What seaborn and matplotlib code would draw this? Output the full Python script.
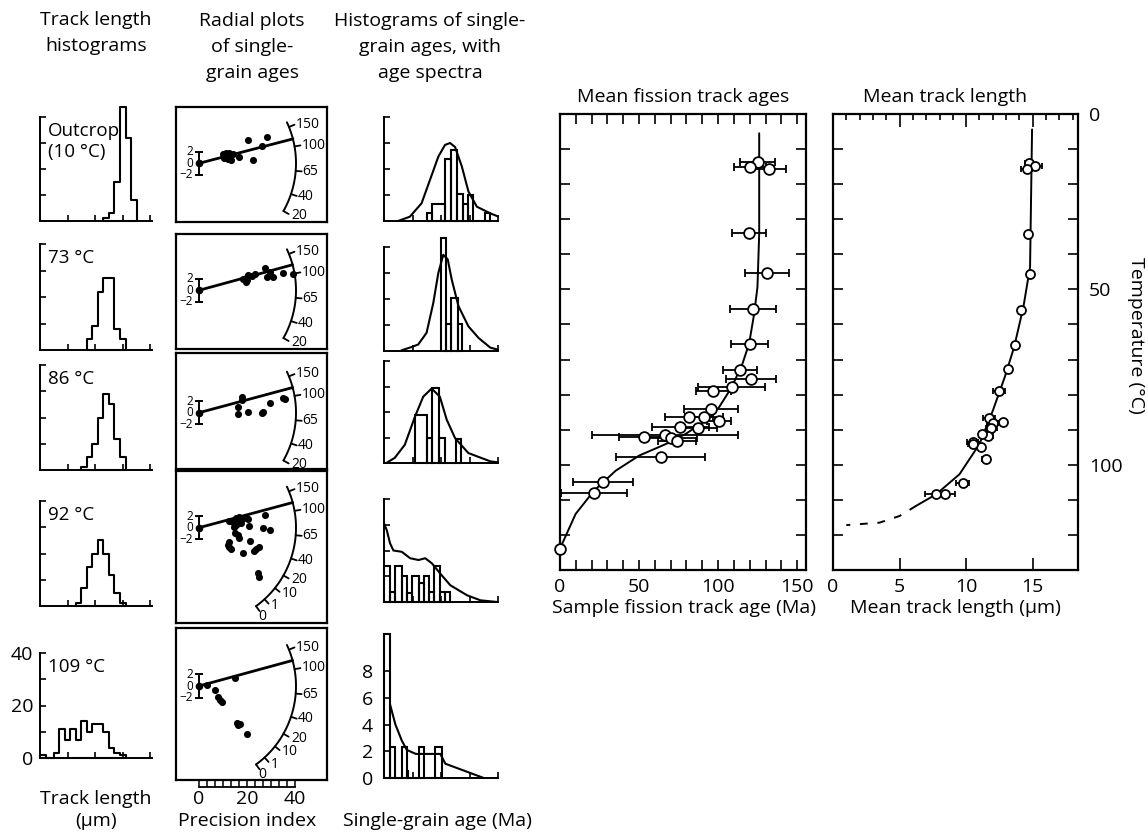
import numpy as np
import matplotlib
matplotlib.use("Agg")
import matplotlib.pyplot as plt
import seaborn as sns

# ===================== DATA =====================
# --- Mean fission track ages (Ma) versus temperature (°C)
age_temp = [13.8, 15.0, 15.8, 33.8, 45.3, 55.7, 65.6, 73.0, 75.5, 77.9, 78.9, 84.1, 86.3,
            86.3, 87.6, 89.1, 89.4, 91.4, 92.2, 92.5, 93.3, 97.7, 104.8, 108.0, 123.9]
age_ma = [125, 120, 132, 119.6, 130.8, 122, 120, 114, 121, 108.6, 97, 95.6, 81.6,
          91, 100.6, 76, 87.5, 66.5, 53.4, 70.5, 73.8, 63.7, 27.4, 21.5, 0]
age_err = [11, 10, 11, 10.5, 13.8, 14.5, 11.6, 10.8, 15.8, 21, 11, 17, 15,
           12, 7.6, 18, 12, 46, 16, 16, 12, 28, 19, 21, 0]
age_curve_ma = [126, 126, 124.9, 122.8, 119.6, 115.4, 108.6, 100.6, 92.2, 79.5, 66.9, 50, 35.2, 21.5, 9.9, 0]
age_curve_t = [5.5, 34.1, 49.3, 57, 65.5, 71.2, 77.9, 83.6, 87.4, 91.2, 94.1, 97.4, 101.7, 107.4, 114, 123.9]

# --- Mean track length (µm) versus temperature (°C)
len_temp = [13.9, 14.8, 15.6, 34.1, 45.5, 56, 65.8, 72.8, 79.1, 86.8, 87.7, 88, 89.6,
            91.9, 91.2, 93.6, 94.8, 94.1, 98.4, 105.2, 108.4, 108.4]
len_um = [14.75, 15.2, 14.55, 14.65, 14.8, 14.1, 13.7, 13.15, 12.45, 11.7, 12.75, 12.0, 11.9,
          11.65, 11.2, 10.5, 11.1, 10.55, 11.5, 9.75, 8.4, 7.7]
len_err = [0.3, 0.5, 0.4, 0, 0, 0, 0, 0, 0.45, 0.45, 0, 0.4, 0.4,
           0.4, 0, 0.4, 0, 0.4, 0.3, 0.5, 0.75, 0.8]
len_curve_um = [14.95, 14.8, 14.3, 13.6, 12.9, 12.0, 11.0, 9.5, 7.75, 6.25]
len_curve_t = [4.4, 43.6, 55, 66.5, 75, 84.6, 94.1, 102.7, 108.4, 111.7]
len_dash_um = [6.25, 5.0, 3.5, 1.0]
len_dash_t = [111.7, 114.6, 116.5, 117.2]

# --- Row labels
row_labels = ["Outcrop\n(10 °C)", "73 °C", "86 °C", "92 °C", "109 °C"]

# --- Track length histograms (µm bin edges, counts)
tl_edges = [
    [11.5, 12.5, 13.5, 14.5, 15.5, 16.5, 17.5],
    [8.5, 9.5, 10.5, 11.5, 12.5, 13.5, 14.5, 15.5],
    [7.5, 8.5, 9.5, 10.5, 11.5, 12.5, 13.5, 14.5, 15.5],
    [6.5, 7.5, 8.5, 9.5, 10.5, 11.5, 12.5, 13.5, 14.5, 15.5],
    [0, 1, 2.5, 3.5, 4.5, 5.5, 6.5, 7.5, 8.5, 9.5, 10.5, 11.5, 12.5, 13.5, 14.5, 15.5],
]
tl_counts = [
    [1, 3, 15, 44, 32, 8],
    [4, 9, 22, 27, 27, 8, 4],
    [1, 5, 10, 20, 29, 25, 12, 5],
    [1, 7, 15, 20, 25, 20, 12, 5, 1],
    [1, 0, 2, 11, 7, 11, 7, 14, 10, 13, 13, 10, 4, 2, 1],
]

# --- Radial plots: precision index and standardised estimate of single grains
rad_prec = [
    [10.1, 11.3, 12.4, 10.6, 11.9, 13.3, 12.6, 16.8, 20.3, 28.2, 26.3, 22.6, 14.0],
    [19.9, 20.6, 19.4, 20.1, 23.3, 27.5, 28.2, 31.0, 35.1, 39.0, 29.6, 18.2, 21.9],
    [18.1, 18.1, 16.4, 16.4, 20.6, 26.1, 26.8, 29.6, 34.9, 35.8],
    [12.6, 14.0, 15.4, 16.5, 18.9, 20.3, 21.0, 17.5, 15.4, 15.0, 16.8, 16.1, 12.6, 11.9, 13.3,
     12.6, 18.2, 21.3, 23.8, 24.9, 23.1, 26.5, 29.6, 27.5, 24.4, 24.9, 16.8, 19.6, 14.4],
    [3.5, 6.7, 8.0, 8.75, 9.5, 15.7, 16.4, 17.1, 20.1, 15.0],
]
rad_z = [
    [1.55, 1.84, 1.72, 0.98, 0.8, 0.57, 1.26, 1.15, 3.97, 4.54, 2.99, 0.52, 1.55],
    [2.36, 2.64, 1.49, 1.78, 2.82, 3.79, 2.36, 2.36, 2.93, 2.82, 3.22, 1.90, 2.47],
    [2.64, 2.18, 1.03, -0.29, 0.17, 0.0, 0.17, 1.72, 2.59, 2.36],
    [1.15, 1.03, 1.61, 1.78, 1.61, 1.44, 0.29, 0.75, 0.46, -0.98, -1.84, -1.26, -2.41, -2.99, -3.74,
     -3.39, -4.43, -2.3, -3.74, -3.28, -4.02, -0.11, -0.4, 2.18, -7.87, -8.56, 0.75, 1.78, 0.17],
    [0.17, -0.69, -1.95, -2.41, -2.7, -6.43, -6.72, -6.55, -8.28, 1.38],
]
rad_central_age = [119, 122, 121, 121, 122]
rad_arc_ages = [
    [150, 100, 65, 40, 20],
    [150, 100, 65, 40, 20],
    [150, 100, 65, 40, 20],
    [150, 100, 65, 40, 20, 10, 1, 0],
    [150, 100, 65, 40, 20, 10, 1, 0],
]
# age scale of the radial arc (angle of each age, degrees)
arc_scale_ages = [0, 1, 10, 20, 40, 65, 100, 150]
arc_scale_angles = [-54, -47.5, -38.5, -29.5, -18.5, -4.5, 10, 22]
precision_ticks = list(np.linspace(0, 40, 13))

# --- Single-grain age histograms (Ma bin edges, frequency) and age spectra
ah_edges = [
    [75, 85, 107, 118, 128, 138, 148, 157, 178, 186],
    [99.4, 108.2, 117.6, 129.4, 136.5],
    [54, 74.7, 83.5, 97, 107, 126, 135.3],
    [0, 10.6, 19.4, 31.2, 40, 48.8, 60.6, 69.4, 78.2, 87, 98.8, 107.6, 115],
    [0, 10.6, 19.4, 31.2, 40, 42.9, 60.6, 69.4, 90, 101.7],
]
ah_heights = [
    [0.6, 1.3, 4.8, 5.5, 2.1, 1.3, 2.0, 0, 0.6],
    [8.7, 2.1, 4.1, 2.1],
    [3.8, 1.95, 5.9, 1.95, 0, 1.9],
    [2.8, 0.8, 2.8, 2.0, 0.7, 2.0, 1.5, 2.0, 0.8, 2.8, 0.8, 0.8],
    [10.8, 2.3, 0, 2.3, 0.5, 0, 2.3, 0, 2.3],
]
spec_age = [
    [24.7, 45.3, 65.9, 80.6, 95.3, 107, 115.9, 124.7, 136.5, 148.2, 162.9, 186.5, 200],
    [30.6, 48, 60, 74.7, 86.5, 95.3, 104, 111.8, 118.8, 130.6, 148, 166, 186.5, 200],
    [4, 18.8, 36.5, 54, 68.8, 83.5, 98, 110, 124.7, 148, 186.5, 200],
    [0, 4.7, 10.6, 16.5, 31.2, 45.9, 60.6, 72.3, 84.1, 98.8, 116.4, 145.8, 169.3, 198.8],
    [10.6, 20, 31.2, 40, 55.9, 98.8, 107.6, 175],
]
spec_val = [
    [0, 0.33, 1.36, 3.15, 4.95, 5.85, 6.0, 5.69, 4.2, 2.26, 1.1, 0.59, 0.35],
    [0.05, 0.3, 0.5, 1.4, 3.7, 6.0, 7.4, 7.05, 5.5, 3.46, 1.9, 1.0, 0.26, 0.1],
    [0, 0.4, 1.43, 3.6, 5.2, 5.84, 5.2, 3.4, 1.95, 0.78, 0.13, 0.05],
    [6.1, 5.6, 4.56, 4.0, 3.9, 3.4, 3.26, 3.4, 3.0, 2.2, 1.3, 0.52, 0.13, 0],
    [5.5, 4.0, 2.8, 2.1, 1.8, 1.8, 1.07, 0],
]

# ===================== LAYOUT / STYLE =====================
W, H = 1148, 833
FS = 14
sns.set_theme(style="ticks")
plt.rcParams['font.family'] = ['Open Sans', 'DejaVu Sans']
plt.rcParams.update({'axes.edgecolor': 'black', 'xtick.color': 'black', 'ytick.color': 'black',
                     'text.color': 'black', 'axes.linewidth': 1.2, 'axes.facecolor': 'none'})
K = 'black'
fig = plt.figure(figsize=(W / 100, H / 100), dpi=100)


def add_ax(x0, y0, x1, y1):
    return fig.add_axes([x0 / W, 1 - y1 / H, (x1 - x0) / W, (y1 - y0) / H])


def ftext(x, y, s, **kw):
    kw.setdefault('ha', 'center')
    kw.setdefault('va', 'center')
    kw.setdefault('fontsize', FS)
    return fig.text(x / W, 1 - y / H, s, **kw)


# ---- column titles
ftext(96, 33, "Track length\nhistograms", linespacing=1.55)
ftext(252, 47, "Radial plots\nof single-\ngrain ages", linespacing=1.55)
ftext(430, 47, "Histograms of single-\ngrain ages, with\nage spectra", linespacing=1.55)
ftext(683, 97, "Mean fission track ages")
ftext(945, 97, "Mean track length")

# ---- row geometry (pixel boxes)
tl_boxes = [(40, 117, 152, 221), (40, 244, 152, 350), (40, 365, 152, 470),
            (40, 501, 152, 606), (40, 653, 152, 758)]
rad_boxes = [(176, 107, 327, 222), (176, 234, 327, 349), (176, 353, 327, 469),
             (176, 471, 327, 623), (176, 628, 327, 780)]
rad_origin_y = [163.3, 290.3, 412.7, 527.7, 686]
ah_boxes = [(384, 117, 498, 221), (384, 247, 498, 351), (384, 361, 498, 463),
            (384, 499, 498, 602), (384, 671, 498, 778)]

# ---- track length histograms
for i in range(5):
    ax = add_ax(*tl_boxes[i])
    e = tl_edges[i]
    c = tl_counts[i]
    centers = [(e[j] + e[j + 1]) / 2 for j in range(len(c))]
    sns.histplot(x=centers, weights=c, bins=e, element="step", fill=True,
                 color=K, linewidth=1.5, ax=ax)
    for coll in ax.collections:
        coll.set_facecolor('none')
        coll.set_edgecolor(K)
    ax.set_xlim(0, 20.3)
    ax.set_ylim(0, 40)
    ax.set_xlabel("")
    ax.set_ylabel("")
    sns.despine(ax=ax)
    ax.spines['left'].set_linewidth(1.4)
    ax.spines['bottom'].set_linewidth(1.4)
    ax.set_xticks([5, 10, 15, 20])
    ax.tick_params(axis='both', direction='in', length=4, width=1.2, labelbottom=False, labelleft=False)
    if i == 4:
        ax.set_yticks([0, 10, 20, 30, 40])
        ax.set_yticklabels(['0', '', '20', '', '40'])
        ax.tick_params(axis='y', labelleft=True, labelsize=FS, pad=5)
    else:
        ax.set_yticks([10, 20, 30, 40])
    for art in ax.collections + ax.patches + ax.lines:
        art.set_clip_on(False)
    ax.text(0.07, 0.95, row_labels[i], transform=ax.transAxes, ha='left', va='top',
            fontsize=FS - 0.5, linespacing=1.2)

# ---- radial plots
SX, SZ = 2.4, 5.8      # pixels per precision unit and per standardised unit
OX = 199
R = 97
for i in range(5):
    x0, y0, x1, y1 = rad_boxes[i]
    oy = rad_origin_y[i]
    ax = add_ax(x0, y0, x1, y1)
    ax.set_xlim((x0 - OX) / SX, (x1 - OX) / SX)
    ax.set_ylim((oy - y1) / SZ, (oy - y0) / SZ)
    ax.set_xticks([])
    ax.set_yticks([])
    for s in ax.spines.values():
        s.set_linewidth(1.6)
    ages = rad_arc_ages[i]
    angs = [np.interp(a, arc_scale_ages, arc_scale_angles) for a in ages]
    th = np.radians(np.linspace(25, min(angs), 120))
    ax.plot(R * np.cos(th) / SX, R * np.sin(th) / SZ, color=K, lw=1.4)
    for a, an in zip(ages, angs):
        t = np.radians(an)
        ax.plot([R * np.cos(t) / SX, (R + 6) * np.cos(t) / SX],
                [R * np.sin(t) / SZ, (R + 6) * np.sin(t) / SZ], color=K, lw=1.3)
        if a == 0:
            ax.text((R + 3) * np.cos(t) / SX, (R + 3) * np.sin(t) / SZ, str(a),
                    ha='left', va='top', fontsize=10)
        else:
            rl = R + 7 if an > -25 else R + 9
            ax.text(rl * np.cos(t) / SX, rl * np.sin(t) / SZ, str(a), ha='left', va='center', fontsize=10)
    ca = np.radians(np.interp(rad_central_age[i], arc_scale_ages, arc_scale_angles))
    ax.plot([0, R * np.cos(ca) / SX], [0, R * np.sin(ca) / SZ], color=K, lw=2.0)
    ax.errorbar([0], [0], yerr=[2], fmt='o', color=K, ms=4.5, capsize=3, elinewidth=1.4, capthick=1.4)
    for zv, lab in [(2, '2'), (0, '0'), (-2, '\u22122')]:
        ax.text(-2.6, zv, lab, ha='right', va='center', fontsize=8.5)
    sns.scatterplot(x=rad_prec[i], y=rad_z[i], color=K, s=26, edgecolor=K, linewidth=0, ax=ax)

# precision index axis under the last radial plot
axp = add_ax(199, 760, 295, 787)
axp.set_xlim(0, 40)
axp.set_ylim(0, 1)
for s in ['top', 'right', 'left']:
    axp.spines[s].set_visible(False)
axp.spines['bottom'].set_linewidth(1.3)
axp.set_yticks([])
axp.set_xticks(precision_ticks)
axp.set_xticklabels(['0' if v == 0 else ('20' if v == 20 else ('40' if v == 40 else '')) for v in precision_ticks])
axp.tick_params(axis='x', direction='in', length=5, width=1.1, labelsize=FS, pad=2)

# ---- single-grain age histograms with age spectra
for i in range(5):
    ax = add_ax(*ah_boxes[i])
    e = ah_edges[i]
    hgt = ah_heights[i]
    centers = [(e[j] + e[j + 1]) / 2 for j in range(len(hgt))]
    sns.histplot(x=centers, weights=hgt, bins=e, element="bars", fill=False,
                 color=K, linewidth=1.5, ax=ax)
    sns.lineplot(x=spec_age[i], y=spec_val[i], sort=False, estimator=None, color=K, lw=1.5, ax=ax)
    ax.set_xlim(0, 200)
    ax.set_ylim(0, 8)
    ax.set_xlabel("")
    ax.set_ylabel("")
    sns.despine(ax=ax)
    ax.spines['left'].set_linewidth(1.4)
    ax.spines['bottom'].set_linewidth(1.4)
    ax.set_xticks([50, 100, 150, 200])
    ax.tick_params(axis='both', direction='in', length=4, width=1.2, labelbottom=False, labelleft=False)
    if i == 4:
        ax.set_yticks([0, 2, 4, 6, 8])
        ax.tick_params(axis='y', labelleft=True, labelsize=FS, pad=8)
    else:
        ax.set_yticks([2, 4, 6, 8])
    for art in ax.collections + ax.patches + ax.lines:
        art.set_clip_on(False)

# ---- bottom labels of the left columns
ftext(96, 810, "Track length\n(\u00b5m)", linespacing=1.35)
ftext(247, 821, "Precision index")
ftext(437, 821, "Single-grain age (Ma)")

# ---- mean fission track ages panel
axa = add_ax(560, 114, 806, 570)
axa.errorbar(age_ma, age_temp, xerr=age_err, fmt='none', ecolor=K, elinewidth=1.3, capsize=3, capthick=1.3, zorder=2)
sns.lineplot(x=age_curve_ma, y=age_curve_t, sort=False, estimator=None, color=K, lw=1.4, ax=axa, zorder=1)
sns.scatterplot(x=age_ma, y=age_temp, s=60, color='white', edgecolor=K, linewidth=1.3, ax=axa, zorder=3)
axa.set_xlim(0, 155.6)
axa.set_ylim(130, 0)
axa.set_xlabel("")
axa.set_ylabel("")
axa.set_xticks([0, 50, 100, 150])
axa.set_xticks(np.arange(0, 156, 10), minor=True)
axa.set_yticks(np.arange(0, 131, 10))
axa.tick_params(axis='both', which='both', direction='in', top=True, right=True, length=7, width=1.2)
axa.tick_params(axis='y', labelleft=False)
axa.tick_params(axis='x', labelsize=FS, pad=6)
for s in axa.spines.values():
    s.set_linewidth(1.6)
for art in axa.collections:
    art.set_clip_on(False)
ftext(684, 608, "Sample fission track age (Ma)")

# ---- mean track length panel
axl = add_ax(833, 114, 1078, 570)
axl.errorbar(len_um, len_temp, xerr=len_err, fmt='none', ecolor=K, elinewidth=1.3, capsize=2.5, capthick=1.3, zorder=2)
sns.lineplot(x=len_curve_um, y=len_curve_t, sort=False, estimator=None, color=K, lw=1.4, ax=axl, zorder=1)
sns.lineplot(x=len_dash_um, y=len_dash_t, sort=False, estimator=None, color=K, lw=1.4, ax=axl,
             linestyle=(0, (4, 5)), zorder=1)
sns.scatterplot(x=len_um, y=len_temp, s=42, color='white', edgecolor=K, linewidth=1.3, ax=axl, zorder=3)
axl.set_xlim(0, 18.4)
axl.set_ylim(130, 0)
axl.set_xlabel("")
axl.set_ylabel("")
axl.set_xticks([0, 5, 10, 15])
axl.set_xticks(np.arange(0, 18.5, 1), minor=True)
axl.set_yticks([0, 50, 100])
axl.set_yticks(np.arange(0, 131, 10), minor=True)
axl.tick_params(axis='both', which='both', direction='in', top=True, right=True, width=1.2)
axl.tick_params(axis='y', which='both', length=7, labelleft=False, labelright=True, labelsize=FS, pad=8)
axl.tick_params(axis='x', which='major', length=9, labelsize=FS, pad=6)
axl.tick_params(axis='x', which='minor', length=4, bottom=False)
for s in axl.spines.values():
    s.set_linewidth(1.6)
ftext(955, 608, "Mean track length (\u00b5m)")
ftext(1136, 335, "Temperature (\u00b0C)", rotation=270)

fig.savefig("out.png", dpi=100)
